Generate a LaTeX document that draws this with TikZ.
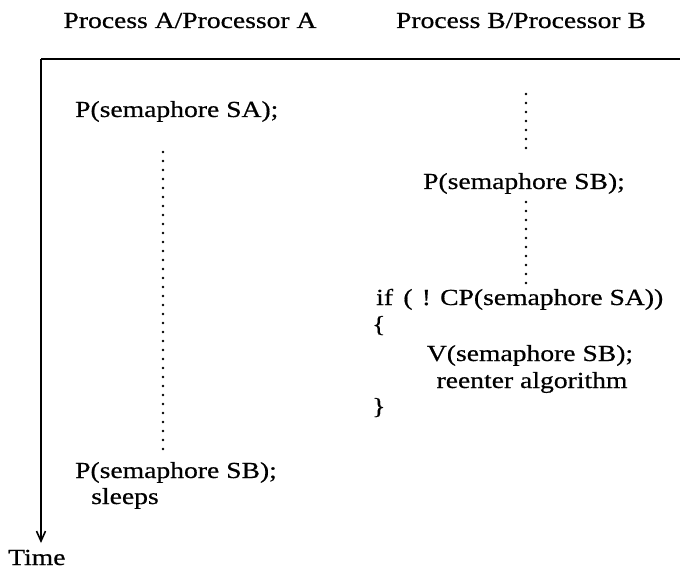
\documentclass[tikz,border=0pt]{standalone}
\usepackage{fontspec}
\setmainfont{Liberation Serif}[FakeStretch=1.2,FakeBold=0.6]
\usetikzlibrary{arrows.meta}
\begin{document}
\begin{tikzpicture}[x=1pt,y=-1pt,
  lbl/.style={font=\fontsize{23}{27}\selectfont, inner sep=0pt},
  dots/.style={line width=2.6pt, line cap=round, dash pattern=on 0pt off 9pt},
  frame/.style={line width=1.6pt}]
\useasboundingbox (0,0) rectangle (680,572);
\node[lbl, anchor=base] (ha) at (190,28) {Process A/Processor A};
\node[lbl, anchor=base] (hb) at (521,28) {Process B/Processor B};
\coordinate (tl) at (41,59);
\coordinate (tr) at (680,59);
\coordinate (tb) at (41,543);
\draw[frame] (tr) -- (tl);
\draw[frame,-{Straight Barb[length=10pt,width=9pt]}] (tl) -- (tb);
\node[lbl, anchor=base west] (time) at (8,565) {Time};
% Process A
\node[lbl, anchor=base west] (psa) at (75,117) {P(semaphore SA);};
\node[lbl, anchor=base west] (psba) at (75,478) {P(semaphore SB);};
\node[lbl, anchor=base] (sl) at (125,504) {sleeps};
\coordinate (a1) at (163,152);
\coordinate (a2) at (163,456);
\draw[dots] (a1) -- (a2);
% Process B
\coordinate (b0) at (526,94);
\coordinate (b1) at (526,148);
\node[lbl, anchor=base] (psb) at (524,189) {P(semaphore SB);};
\coordinate (b2) at (526,202);
\coordinate (b3) at (526,283);
\draw[dots] (b0) -- (b1);
\draw[dots] (b2) -- (b3);
\node[lbl, anchor=base west] (ifl) at (376,305) {if\hspace{0.45em}(\hspace{0.4em}!\hspace{0.4em}CP(semaphore SA))};
\node[lbl, anchor=base west] (ob) at (372,332) {\{};
\node[lbl, anchor=base] (vsb) at (530,361) {V(semaphore SB);};
\node[lbl, anchor=base] (re) at (532,388) {reenter algorithm};
\node[lbl, anchor=base west] (cb) at (372,414) {\}};
\end{tikzpicture}
\end{document}
